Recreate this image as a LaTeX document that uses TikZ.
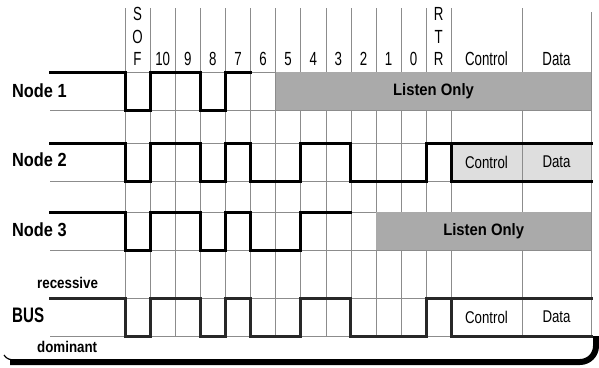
\documentclass[tikz,border=0pt]{standalone}
\usepackage{fontspec}
\setmainfont{Liberation Sans}[FakeStretch=0.78]
\newfontfamily\hdrfont{Liberation Sans}[FakeStretch=0.7]
\newfontfamily\condfont{Liberation Sans}[FakeStretch=0.86]
\newfontfamily\narrowfont{Liberation Sans}[FakeStretch=0.72]
\newfontfamily\widefont{Liberation Sans}[FakeStretch=0.9]
\usetikzlibrary{positioning}
\definecolor{gridgray}{RGB}{140,140,140}
\definecolor{listengray}{RGB}{170,170,170}
\definecolor{fieldgray}{RGB}{222,222,222}
\definecolor{busdark}{RGB}{40,40,40}
\tikzset{
  gridline/.style={gridgray, line width=0.6pt},
  levelline/.style={gridgray, line width=0.6pt},
  signal/.style={black, line width=3pt, line join=miter, line cap=rect},
  bussignal/.style={busdark, line width=3pt, line join=miter, line cap=rect},
  hdr/.style={font=\hdrfont\fontsize{19}{19}\selectfont, inner sep=0pt},
  rowlabel/.style={font=\condfont\bfseries\fontsize{19}{19}\selectfont, anchor=west, inner sep=0pt},
  smalllabel/.style={font=\condfont\bfseries\fontsize{15.5}{15.5}\selectfont, anchor=west, inner sep=0pt},
  listenbox/.style={fill=listengray, draw=none, anchor=north west, inner sep=0pt,
    minimum height=38pt, font=\widefont\bfseries\fontsize{16.5}{16.5}\selectfont},
  fieldtxt/.style={font=\fontsize{17}{17}\selectfont, inner sep=0pt},
  frame/.style={black, line width=6pt, rounded corners=16pt}
}
\begin{document}
\begin{tikzpicture}[x=1pt, y=-1pt]
  \useasboundingbox (0,0) rectangle (599,367);

  % Shaded field behind Node 2
  \fill[fieldgray] (451.3,143) rectangle (591,181);

  % Bit grid
  \foreach \i in {0,...,13}
    \draw[gridline] ({125+25.1*\i},8) -- ({125+25.1*\i},336);
  \draw[gridline] (522,8) -- (522,336);
  \draw[gridline] (591,12) -- (591,336);

  % Header: SOF, identifier bits, RTR, fields
  \node[hdr] (sofS) at (137.55,14) {S};
  \node[hdr] (sofO) at (137.55,36.5) {O};
  \node[hdr] (sofF) at (137.55,59) {F};
  \foreach \t [count=\i] in {10,9,8,7,6,5,4,3,2,1,0}
    \node[hdr] (bit\t) at ({137.55+25.1*\i},59) {\t};
  \node[hdr] (rtrR) at (438.75,14) {R};
  \node[hdr] (rtrT) at (438.75,36.5) {T};
  \node[hdr] (rtrRb) at (438.75,59) {R};
  \node[hdr] (ctrl) at (486.5,59) {Control};
  \node[hdr] (data) at (556.5,59) {Data};

  % Recessive / dominant levels of each row
  \foreach \y in {72,143,212,298}
  {
    \draw[levelline] (50,\y) -- (591,\y);
    \draw[levelline] (50,\y+38) -- (591,\y+38);
  }

  % Listen only areas
  \node[listenbox, minimum width=315.4pt] (listen1) at (275.6,72) {Listen Only};
  \node[listenbox, minimum width=215pt] (listen3) at (376,212) {Listen Only};

  % Node 1
  \begin{scope}[shift={(0,72)}]
    \draw[signal] (50,0) -- (125,0) -- (125,38) -- (150.1,38) -- (150.1,0)
      -- (200.3,0) -- (200.3,38) -- (225.4,38) -- (225.4,0) -- (250.5,0);
  \end{scope}

  % Node 2
  \begin{scope}[shift={(0,143)}]
    \draw[signal] (50,0) -- (125,0) -- (125,38) -- (150.1,38) -- (150.1,0)
      -- (200.3,0) -- (200.3,38) -- (225.4,38) -- (225.4,0) -- (250.5,0)
      -- (250.5,38) -- (300.7,38) -- (300.7,0) -- (350.9,0) -- (350.9,38)
      -- (426.2,38) -- (426.2,0) -- (591,0);
    \draw[signal] (451.3,0) -- (451.3,38) -- (591,38);
  \end{scope}

  % Node 3
  \begin{scope}[shift={(0,212)}]
    \draw[signal] (50,0) -- (125,0) -- (125,38) -- (150.1,38) -- (150.1,0)
      -- (200.3,0) -- (200.3,38) -- (225.4,38) -- (225.4,0) -- (250.5,0)
      -- (250.5,38) -- (300.7,38) -- (300.7,0) -- (350.9,0);
  \end{scope}

  % BUS
  \begin{scope}[shift={(0,298)}]
    \draw[bussignal] (50,0) -- (125,0) -- (125,38) -- (150.1,38) -- (150.1,0)
      -- (200.3,0) -- (200.3,38) -- (225.4,38) -- (225.4,0) -- (250.5,0)
      -- (250.5,38) -- (300.7,38) -- (300.7,0) -- (350.9,0) -- (350.9,38)
      -- (426.2,38) -- (426.2,0) -- (591,0);
    \draw[bussignal] (451.3,0) -- (451.3,38) -- (591,38);
  \end{scope}

  % Field texts
  \node[fieldtxt] (ctrl2) at (486.5,162) {Control};
  \node[fieldtxt] (data2) at (556.5,162) {Data};
  \node[fieldtxt] (ctrlbus) at (486.5,317) {Control};
  \node[fieldtxt] (databus) at (556.5,317) {Data};

  % Row labels
  \node[rowlabel] (node1) at (12,91) {Node 1};
  \node[rowlabel] (node2) at (12,160) {Node 2};
  \node[rowlabel] (node3) at (12,230) {Node 3};
  \node[rowlabel, font=\narrowfont\bfseries\fontsize{21}{21}\selectfont] (bus) at (12,315) {BUS};
  \node[smalllabel] (recessive) at (37,283) {recessive};
  \node[smalllabel] (dominant) at (37,347) {dominant};

  % Card edge
  \draw[black, line width=1.2pt] (4,355) to[out=-60, in=180] (16,360);
  \draw[frame] (10,362) -- (596,362) -- (596,336);
\end{tikzpicture}
\end{document}
